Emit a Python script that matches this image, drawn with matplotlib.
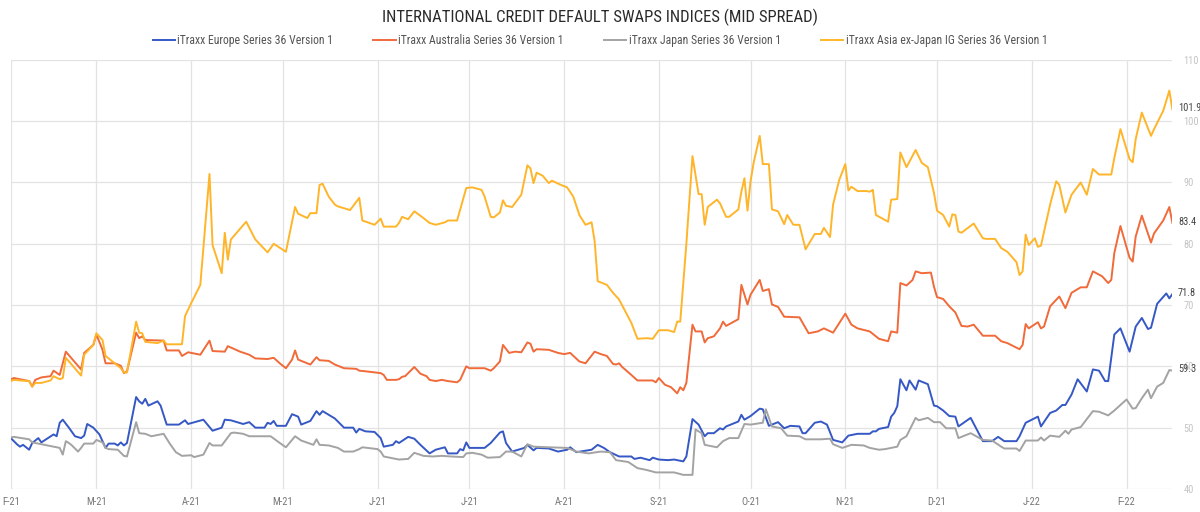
import matplotlib
matplotlib.use("Agg")
import matplotlib.pyplot as plt
import matplotlib.dates as mdates
import pandas as pd

plt.rcParams["font.family"] = ["Roboto Condensed", "Roboto", "DejaVu Sans"]

start = pd.Timestamp("2021-02-01")

# days since 2021-02-01, values in bp
asia_days = [0, 1, 3, 6, 7, 8, 10, 13, 14, 16,
             17, 18, 23, 24, 27, 28, 30, 31, 34, 36,
             37, 38, 41, 42, 43, 44, 48, 50, 51, 56,
             57, 59, 62, 65, 66, 69, 70, 71, 72, 77,
             80, 84, 86, 90, 93, 94, 97, 98, 100, 101,
             102, 104, 106, 107, 111, 114, 115, 119, 121, 122,
             126, 127, 128, 130, 132, 135, 137, 139, 142, 143,
             146, 149, 151, 154, 155, 157, 158, 160, 161, 162,
             164, 167, 169, 170, 171, 172, 174, 176, 177, 180,
             182, 184, 186, 188, 190, 191, 192, 193, 195, 197,
             199, 203, 205, 208, 210, 212, 215, 217, 218, 219,
             221, 223, 225, 226, 227, 228, 231, 232, 234, 235,
             238, 239, 240, 241, 242, 243, 245, 246, 248, 249,
             251, 253, 254, 256, 258, 260, 263, 265, 266, 268,
             269, 271, 273, 274, 275, 277, 280, 281, 282, 283,
             287, 288, 290, 291, 293, 296, 298, 300, 302, 303,
             305, 307, 308, 309, 310, 311, 315, 318, 319, 322,
             324, 326, 329, 330, 331, 332, 333, 335, 336, 337,
             340, 342, 343, 345, 347, 350, 352, 354, 356, 360,
             361, 363, 366, 367, 368, 370, 373, 374, 377, 379,
             380]
asia_vals = [57.6, 57.8, 57.7, 57.6, 56.7, 57.3, 57.3, 57.7, 58.4, 57.9,
             58.1, 61.4, 58.5, 61.9, 63.5, 65.4, 64.3, 61.7, 60.5, 59.7,
             59.0, 59.0, 67.3, 65.5, 65.4, 64.0, 63.8, 64.2, 63.6, 63.6,
             68.2, 70.3, 73.3, 91.4, 79.8, 75.2, 81.8, 77.4, 80.7, 83.6,
             80.7, 78.6, 80.0, 78.7, 86.0, 84.9, 84.2, 85.0, 85.0, 89.6,
             89.8, 87.7, 86.4, 86.1, 85.5, 87.5, 83.8, 83.1, 84.1, 82.8,
             82.8, 83.4, 84.4, 84.0, 85.3, 84.2, 83.4, 83.1, 83.5, 83.8,
             83.8, 89.1, 89.2, 88.8, 87.7, 84.4, 84.3, 85.1, 87.1, 86.2,
             86.0, 88.0, 92.8, 92.3, 89.9, 91.6, 91.1, 89.9, 90.3, 89.6,
             89.2, 87.7, 84.7, 83.1, 83.5, 80.4, 73.9, 73.7, 73.3, 72.0,
             70.9, 67.1, 64.5, 64.6, 64.5, 65.9, 65.9, 65.6, 67.3, 67.3,
             80.0, 94.3, 88.1, 88.1, 83.1, 86.0, 87.2, 86.6, 84.4, 84.4,
             85.6, 88.5, 90.7, 85.4, 90.2, 93.2, 97.6, 93.0, 93.0, 85.6,
             85.3, 83.2, 84.7, 83.1, 83.1, 79.1, 81.6, 81.6, 82.6, 81.1,
             86.4, 90.4, 93.0, 88.7, 89.3, 88.6, 88.6, 88.5, 88.8, 84.7,
             83.6, 87.2, 87.3, 94.9, 92.5, 95.3, 93.2, 92.5, 88.3, 85.4,
             84.7, 82.8, 84.8, 84.7, 82.0, 81.8, 83.3, 80.9, 80.8, 80.8,
             79.3, 78.7, 77.0, 74.9, 75.5, 81.5, 79.8, 80.9, 79.5, 79.7,
             86.4, 90.2, 89.6, 85.1, 88.0, 90.0, 88.0, 92.2, 91.3, 91.3,
             94.0, 98.7, 93.8, 93.3, 97.1, 101.4, 97.6, 98.7, 101.7, 105.0,
             101.9]

aus_days = [0, 1, 4, 6, 7, 8, 10, 13, 14, 16,
            18, 23, 24, 27, 28, 30, 31, 34, 36, 37,
            38, 41, 42, 43, 44, 50, 51, 55, 56, 58,
            62, 65, 66, 70, 71, 75, 78, 80, 84, 86,
            88, 90, 92, 93, 94, 98, 100, 101, 104, 106,
            109, 113, 114, 116, 121, 122, 123, 126, 127, 128,
            129, 132, 134, 136, 137, 139, 141, 143, 146, 147,
            149, 150, 152, 155, 157, 158, 160, 161, 163, 165,
            167, 169, 170, 171, 172, 176, 179, 181, 183, 186,
            188, 191, 193, 195, 197, 198, 199, 200, 203, 205,
            210, 211, 212, 214, 216, 218, 219, 220, 221, 223,
            224, 226, 227, 228, 230, 232, 233, 234, 238, 239,
            241, 242, 245, 246, 248, 249, 251, 253, 258, 261,
            264, 266, 269, 273, 275, 277, 281, 284, 287, 288,
            290, 291, 293, 295, 296, 298, 301, 302, 303, 305,
            307, 309, 311, 313, 315, 318, 322, 324, 326, 330,
            331, 332, 333, 336, 337, 338, 340, 343, 345, 347,
            350, 352, 354, 357, 359, 360, 361, 363, 366, 367,
            368, 370, 373, 374, 377, 379, 380]
aus_vals = [57.9, 58.1, 57.8, 57.6, 56.7, 57.8, 58.2, 58.4, 59.3, 58.6,
            62.4, 59.5, 62.2, 63.5, 65.2, 62.7, 60.5, 60.5, 60.1, 58.9,
            59.2, 65.5, 64.6, 64.9, 64.3, 64.2, 62.6, 62.6, 61.7, 62.3,
            61.9, 64.2, 62.5, 62.4, 63.3, 62.4, 61.9, 61.3, 61.2, 61.4,
            60.5, 59.7, 61.1, 62.6, 61.1, 60.3, 61.5, 61.0, 60.9, 60.3,
            59.7, 59.6, 59.3, 59.2, 58.9, 58.6, 57.8, 57.8, 57.9, 58.3,
            58.4, 59.9, 58.8, 58.4, 57.8, 57.6, 57.8, 57.6, 57.4, 57.8,
            60.0, 59.7, 59.7, 59.7, 59.3, 59.7, 60.8, 63.5, 62.2, 62.4,
            62.3, 63.9, 63.7, 62.4, 62.8, 62.7, 62.2, 62.0, 62.2, 60.8,
            60.5, 62.4, 62.0, 61.7, 60.4, 60.3, 60.5, 59.9, 58.6, 57.7,
            57.7, 57.4, 58.1, 57.0, 56.6, 55.6, 56.6, 56.1, 57.3, 66.8,
            65.7, 65.7, 63.9, 64.6, 64.9, 66.2, 67.3, 66.6, 67.7, 73.3,
            70.1, 71.7, 74.1, 72.3, 72.6, 70.1, 69.7, 68.1, 68.0, 65.4,
            65.7, 66.2, 65.5, 68.6, 66.8, 66.2, 65.7, 64.5, 64.1, 65.7,
            65.5, 73.6, 73.2, 74.1, 75.5, 75.2, 75.3, 73.0, 71.3, 71.0,
            69.8, 68.8, 66.6, 66.5, 66.8, 65.0, 65.0, 64.1, 63.8, 62.8,
            63.5, 66.9, 66.2, 67.2, 66.2, 66.5, 69.8, 71.4, 69.5, 72.0,
            72.9, 72.9, 75.5, 74.7, 73.6, 74.1, 78.5, 82.9, 77.7, 77.1,
            81.2, 84.6, 80.2, 81.7, 83.8, 86.0, 83.4]

eur_days = [0, 2, 3, 4, 6, 7, 9, 10, 14, 15,
            16, 17, 19, 21, 23, 24, 25, 27, 29, 31,
            32, 34, 35, 36, 37, 38, 41, 42, 43, 44,
            45, 48, 49, 51, 55, 57, 58, 63, 66, 69,
            70, 72, 74, 76, 78, 80, 83, 84, 85, 86,
            87, 90, 92, 94, 95, 98, 100, 101, 102, 106,
            109, 112, 113, 114, 116, 119, 121, 122, 125, 126,
            127, 130, 132, 134, 137, 139, 142, 143, 146, 147,
            148, 149, 150, 155, 157, 160, 161, 162, 164, 168,
            169, 171, 172, 176, 179, 182, 183, 185, 190, 192,
            194, 196, 199, 203, 204, 206, 209, 210, 212, 215,
            217, 220, 221, 223, 225, 227, 228, 230, 232, 233,
            234, 238, 239, 240, 242, 245, 246, 248, 251, 253,
            255, 258, 259, 260, 263, 265, 267, 269, 272, 274,
            277, 281, 282, 283, 284, 287, 288, 289, 290, 291,
            293, 294, 296, 297, 300, 302, 303, 305, 307, 309,
            310, 314, 316, 318, 321, 323, 325, 329, 330, 332,
            336, 337, 340, 342, 344, 345, 347, 349, 352, 354,
            356, 358, 359, 361, 363, 366, 368, 370, 372, 373,
            375, 378, 379, 380]
eur_vals = [48.3, 47.3, 46.9, 47.2, 46.4, 47.5, 48.3, 47.6, 48.9, 48.6,
            50.8, 51.3, 50.0, 48.6, 48.3, 48.7, 50.6, 50.0, 48.9, 46.7,
            47.4, 47.4, 47.1, 47.6, 47.1, 47.5, 55.0, 54.3, 53.9, 54.7,
            53.6, 54.3, 53.6, 50.5, 50.5, 51.2, 50.6, 51.3, 49.5, 50.0,
            51.3, 51.2, 50.9, 50.6, 50.9, 50.0, 50.0, 50.8, 50.6, 51.1,
            50.3, 50.3, 52.2, 51.8, 50.5, 51.1, 52.7, 52.1, 52.7, 51.5,
            50.0, 50.0, 49.2, 49.8, 49.4, 49.3, 48.3, 46.9, 47.2, 47.8,
            47.5, 48.5, 48.2, 47.2, 45.8, 46.4, 46.8, 45.8, 45.8, 46.5,
            46.3, 47.6, 46.7, 46.7, 47.5, 49.2, 49.4, 47.5, 46.1, 46.7,
            47.2, 46.3, 46.7, 46.6, 46.1, 46.4, 46.8, 46.0, 46.4, 47.2,
            46.7, 46.0, 45.3, 45.3, 44.9, 45.1, 44.7, 45.1, 44.8, 44.7,
            44.8, 44.5, 45.3, 51.4, 50.5, 48.6, 49.1, 49.1, 49.9, 49.7,
            50.2, 51.0, 52.1, 51.3, 51.9, 53.1, 53.0, 50.3, 50.9, 49.9,
            50.3, 50.2, 49.1, 49.1, 50.8, 51.0, 50.5, 48.0, 47.6, 48.7,
            49.0, 49.0, 49.4, 49.4, 49.8, 50.1, 51.8, 52.4, 53.5, 57.9,
            56.1, 57.7, 56.2, 57.7, 57.1, 53.6, 53.5, 52.8, 51.9, 51.8,
            50.2, 51.6, 49.7, 47.8, 47.8, 48.5, 47.8, 47.8, 48.6, 50.8,
            51.8, 50.2, 52.4, 52.8, 53.7, 53.7, 55.4, 57.9, 55.9, 59.5,
            59.3, 57.6, 57.6, 65.2, 66.2, 62.4, 66.5, 67.9, 66.1, 66.3,
            70.2, 71.9, 71.1, 71.8]

jpn_days = [0, 1, 6, 7, 11, 14, 16, 17, 18, 19,
            20, 22, 23, 24, 27, 28, 30, 31, 32, 35,
            36, 37, 38, 41, 42, 44, 46, 50, 52, 54,
            56, 59, 60, 63, 65, 66, 69, 72, 73, 76,
            78, 85, 88, 90, 93, 95, 99, 100, 101, 104,
            107, 109, 112, 114, 115, 120, 121, 122, 126, 127,
            130, 132, 135, 138, 141, 144, 148, 149, 151, 154,
            156, 160, 162, 164, 167, 169, 171, 176, 182, 185,
            189, 193, 196, 198, 202, 205, 208, 211, 215, 217,
            220, 223, 224, 226, 227, 231, 233, 235, 238, 240,
            242, 246, 247, 249, 252, 254, 258, 260, 265, 268,
            269, 272, 275, 279, 281, 284, 286, 290, 291, 293,
            296, 297, 300, 302, 304, 306, 309, 310, 314, 318,
            321, 324, 325, 329, 330, 332, 336, 337, 338, 340,
            343, 345, 346, 347, 350, 354, 356, 359, 361, 365,
            367, 368, 370, 372, 373, 375, 377, 379, 380]
jpn_vals = [48.4, 48.5, 48.1, 47.6, 47.2, 46.9, 46.7, 45.6, 47.8, 47.5,
            47.1, 46.1, 46.7, 47.4, 47.4, 48.0, 47.6, 46.7, 46.5, 46.4,
            45.9, 45.4, 45.3, 50.9, 49.1, 49.0, 48.6, 49.0, 47.4, 46.0,
            45.4, 45.5, 45.2, 45.6, 47.5, 47.1, 47.1, 49.1, 49.2, 49.0,
            48.6, 48.6, 47.5, 46.8, 48.6, 47.9, 47.2, 48.1, 47.2, 47.1,
            46.7, 46.1, 46.1, 46.5, 46.8, 46.5, 46.1, 45.3, 44.9, 44.8,
            44.9, 45.9, 45.4, 45.3, 45.4, 45.3, 45.2, 45.8, 45.9, 45.6,
            45.1, 45.2, 46.1, 46.1, 45.3, 47.3, 46.9, 46.8, 46.7, 46.1,
            45.8, 46.1, 46.0, 44.7, 44.4, 43.4, 43.1, 42.7, 42.7, 42.7,
            42.3, 42.3, 49.7, 49.1, 47.2, 46.8, 47.8, 48.3, 48.3, 50.6,
            50.5, 50.8, 53.0, 50.2, 49.9, 48.7, 48.6, 48.1, 48.1, 48.2,
            47.3, 46.7, 47.2, 47.1, 46.7, 46.4, 46.5, 46.9, 48.0, 48.6,
            51.6, 51.2, 51.6, 50.9, 50.9, 49.9, 49.9, 48.3, 49.1, 48.0,
            47.9, 46.9, 46.6, 46.6, 46.2, 47.9, 47.9, 48.4, 47.9, 48.7,
            48.5, 49.5, 49.0, 49.7, 50.1, 52.7, 52.6, 52.0, 52.8, 54.6,
            53.1, 53.2, 54.8, 56.2, 54.8, 56.7, 57.3, 59.4, 59.3]

series = [
    ("iTraxx Europe Series 36 Version 1", eur_days, eur_vals, "#3558c4"),
    ("iTraxx Australia Series 36 Version 1", aus_days, aus_vals, "#f06a3a"),
    ("iTraxx Japan Series 36 Version 1", jpn_days, jpn_vals, "#a3a3a3"),
    ("iTraxx Asia ex-Japan IG Series 36 Version 1", asia_days, asia_vals, "#ffb52a"),
]


def to_dates(days):
    return start + pd.to_timedelta(days, unit="D")


fig = plt.figure(figsize=(12, 5.12), dpi=100)
ax = fig.add_axes([0.009, 0.045, 0.968, 0.838])

for name, days, vals, color in series:
    ax.plot(to_dates(days), vals, color=color, lw=1.4, label=name)

last = to_dates([380])[0]
for name, days, vals, color in series:
    ax.annotate(f"{vals[-1]:.1f}", xy=(last, vals[-1]), xytext=(4, 1),
                textcoords="offset points", va="center", ha="left",
                fontsize=7.5, color="#444444")

ax.set_xlim(start, last)
ax.set_ylim(40, 110)
ax.set_yticks(range(40, 111, 10))
ax.yaxis.tick_right()

ax.xaxis.set_major_locator(mdates.MonthLocator())
ax.xaxis.set_major_formatter(
    plt.FuncFormatter(lambda x, pos: mdates.num2date(x).strftime("%b")[0]
                      + "-" + mdates.num2date(x).strftime("%y")))

ax.grid(True, color="#e3e3e3", lw=0.9)
ax.set_axisbelow(True)
for s in ax.spines.values():
    s.set_visible(False)
ax.tick_params(axis="both", length=0, labelsize=7.5)
ax.tick_params(axis="y", colors="#c4c4c4", pad=8)
ax.tick_params(axis="x", colors="#777777", pad=6)

fig.suptitle("INTERNATIONAL CREDIT DEFAULT SWAPS INDICES (MID SPREAD)",
             y=0.982, fontsize=12, color="#2a2a2a")
fig.legend(loc="center", bbox_to_anchor=(0.5, 0.92), ncol=4, frameon=False,
           fontsize=8.5, handlelength=1.9, handletextpad=0.2,
           columnspacing=3.4, labelcolor="#555555")

fig.savefig("out.png", dpi=100)
